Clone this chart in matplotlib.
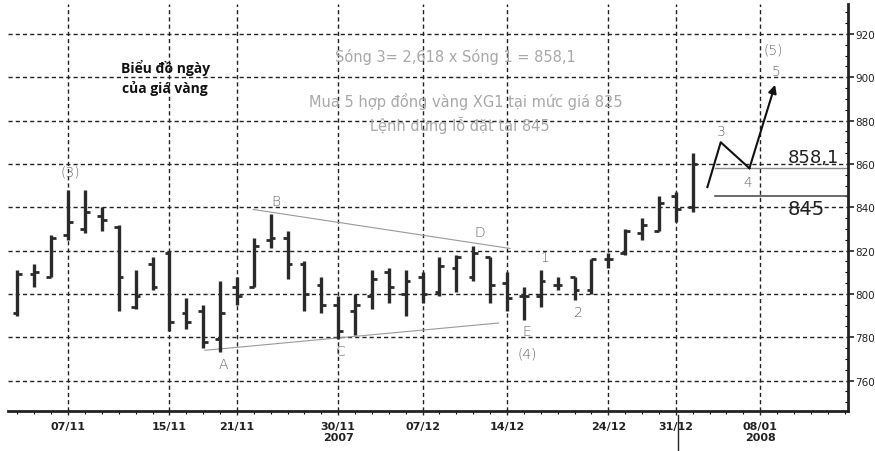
import matplotlib
matplotlib.use('Agg')
import matplotlib.pyplot as plt
from matplotlib.ticker import MultipleLocator, FixedLocator
import matplotlib.transforms as mtransforms

# ---- data (trading-day index 0 = 02/11/2007) ----
opens  = [791,809,808,827,830,836,831,794,814,819, 791,792,779,803,803,825,826,814,804,795,
          792,799,810,800,808,801,812,808,817,805, 799,799,804,808,802,816,819,828,829,845, 840]
highs  = [811,814,827,848,848,840,832,811,817,820, 798,795,806,808,826,837,829,815,808,799,
          800,811,812,811,810,817,818,822,817,810, 803,811,808,808,816,819,830,835,845,847, 865]
lows   = [790,803,808,825,828,829,792,793,802,783, 784,775,773,795,803,821,807,792,791,779,
          781,793,796,790,796,799,801,806,796,792, 788,794,802,797,800,812,818,825,829,833, 838]
closes = [809,810,826,833,838,834,808,799,803,787, 787,778,791,799,822,826,814,800,795,783,
          795,807,803,806,800,813,817,819,804,798, 799,806,804,802,816,816,829,832,842,839, 860]

tick_pos    = [3, 9, 13, 19, 24, 29, 35, 39, 44]
tick_labels = ['07/11', '15/11', '21/11', '30/11', '07/12', '14/12', '24/12', '31/12', '08/01']
year_pos    = [19, 44]
year_labels = ['2007', '2008']
y_ticks     = [760, 780, 800, 820, 840, 860, 880, 900, 920]

wave_labels = ['(3)', 'A', 'B', 'C', 'D', 'E', '(4)', '1', '2', '3', '4', '(5)', '5']
wave_x      = [3.12, 12.18, 15.32, 19.17, 27.4, 30.19, 30.19, 31.26, 33.21, 41.68, 43.28, 44.76, 44.94]
wave_y      = [856.5, 767.9, 843.0, 773.8, 828.7, 783.0, 772.5, 817.2, 791.8, 875.3, 851.8, 913.0, 903.0]

upper_line_x = [13.96, 29.18]
upper_line_y = [839.0, 821.0]
lower_line_x = [11.1, 28.5]
lower_line_y = [774.0, 786.6]

proj_x = [40.87, 41.66, 43.36]
proj_y = [849.3, 870.0, 858.0]
arrow_end = (44.88, 896.5)

target_level = 858.1
stop_level = 845
level_start = 41.3

plt.rcParams['font.family'] = ['Open Sans', 'DejaVu Sans']

fig = plt.figure(figsize=(8.75, 4.52), dpi=100)
fig.patch.set_facecolor('white')
ax = fig.add_axes([8/875, 1-412/452, 840/875, 407/452])

xmin, xmax = -0.56, 49.2
ax.set_xlim(xmin, xmax)
ax.set_ylim(746, 933.8)

# grid
for y in y_ticks:
    ax.axhline(y, color='#222222', lw=1.0, ls=(0, (3, 2.2)), zorder=1)
for x in tick_pos:
    ax.axvline(x, color='#222222', lw=1.0, ls=(0, (3, 2.2)), zorder=1)

# OHLC bars
tw = 0.28
for i, (o, h, l, c) in enumerate(zip(opens, highs, lows, closes)):
    ax.plot([i, i], [l, h], color='#2a2a2a', lw=2.4, solid_capstyle='butt', zorder=3)
    ax.plot([i - tw, i], [o, o], color='#2a2a2a', lw=2.0, solid_capstyle='butt', zorder=3)
    ax.plot([i, i + tw], [c, c], color='#2a2a2a', lw=2.0, solid_capstyle='butt', zorder=3)

# triangle lines
ax.plot(upper_line_x, upper_line_y, color='#9a9a9a', lw=0.8, zorder=2)
ax.plot(lower_line_x, lower_line_y, color='#9a9a9a', lw=0.8, zorder=2)

# level lines
ax.plot([level_start, xmax], [target_level, target_level], color='#8a8a8a', lw=1.0, zorder=2)
ax.plot([level_start, xmax], [stop_level, stop_level], color='#444444', lw=1.1, zorder=2)

# projection
ax.plot(proj_x, proj_y, color='#111111', lw=1.5, zorder=4)
ax.annotate('', xy=arrow_end, xytext=(proj_x[-1], proj_y[-1]),
            arrowprops=dict(arrowstyle='-|>', color='#111111', lw=1.5,
                            mutation_scale=12, shrinkA=0, shrinkB=0), zorder=4)

# wave labels
for t, x, y in zip(wave_labels, wave_x, wave_y):
    ax.text(x, y, t, ha='center', va='center', fontsize=10, color='#666666',
            family=['DejaVu Sans'], fontweight='light', zorder=5)

ax.text(47.13, 863.3, '858,1', ha='center', va='center', fontsize=13, color='#222222',
        family=['DejaVu Sans'], zorder=5)
ax.text(46.72, 839.3, '845', ha='center', va='center', fontsize=14, color='#222222',
        family=['DejaVu Sans'], zorder=5)

# titles/annotations
ax.text(0.187, 0.845, 'Biểu đồ ngày', transform=ax.transAxes, ha='center', va='center',
        fontsize=10, fontweight='bold', color='#111111', zorder=5)
ax.text(0.187, 0.796, 'của giá vàng', transform=ax.transAxes, ha='center', va='center',
        fontsize=10, fontweight='bold', color='#111111', zorder=5)
gray_font = ['DejaVu Sans']
ax.text(0.532, 0.872, 'Sóng 3= 2,618 x Sóng 1 = 858,1', transform=ax.transAxes,
        ha='center', va='center', fontsize=10.5, color='#a8a8a8', family=gray_font, zorder=5)
ax.text(0.545, 0.762, 'Mua 5 hợp đồng vàng XG1 tại mức giá 825', transform=ax.transAxes,
        ha='center', va='center', fontsize=10.5, color='#a8a8a8', family=gray_font, zorder=5)
ax.text(0.538, 0.705, 'Lệnh dừng lỗ đặt tại 845', transform=ax.transAxes,
        ha='center', va='center', fontsize=10.5, color='#a8a8a8', family=gray_font, zorder=5)

# axes styling
for s in ['left', 'top']:
    ax.spines[s].set_visible(False)
ax.spines['bottom'].set_linewidth(2.0)
ax.spines['right'].set_linewidth(2.0)
ax.spines['bottom'].set_color('#222222')
ax.spines['right'].set_color('#222222')

ax.yaxis.tick_right()
ax.yaxis.set_major_locator(FixedLocator(y_ticks))
ax.yaxis.set_minor_locator(MultipleLocator(5))
ax.tick_params(axis='y', which='major', length=4, width=1.2, pad=1, labelsize=7.5,
               direction='out', colors='#222222')
ax.tick_params(axis='y', which='minor', length=2, width=0.8, direction='in')
ax.set_yticklabels([str(v) for v in y_ticks], family=['DejaVu Sans'])

ax.xaxis.set_major_locator(FixedLocator(tick_pos))
ax.xaxis.set_minor_locator(MultipleLocator(1))
ax.set_xticklabels(tick_labels, family=['Liberation Sans Narrow', 'DejaVu Sans'],
                   fontweight='bold')
ax.tick_params(axis='x', which='major', length=3, width=1, pad=4, labelsize=8, colors='#222222')
ax.tick_params(axis='x', which='minor', length=2, width=0.8, direction='out')

trans = mtransforms.blended_transform_factory(ax.transData, ax.transAxes)
for x, t in zip(year_pos, year_labels):
    ax.text(x, -0.064, t, transform=trans, ha='center', va='center', fontsize=8,
            fontweight='bold', family=['Liberation Sans Narrow', 'DejaVu Sans'], color='#222222')
ax.plot([tick_pos[7] + 0.1, tick_pos[7] + 0.1], [-0.01, -0.12], transform=trans,
        color='#222222', lw=1.0, clip_on=False)

fig.savefig('out.png', dpi=100, facecolor='white')
